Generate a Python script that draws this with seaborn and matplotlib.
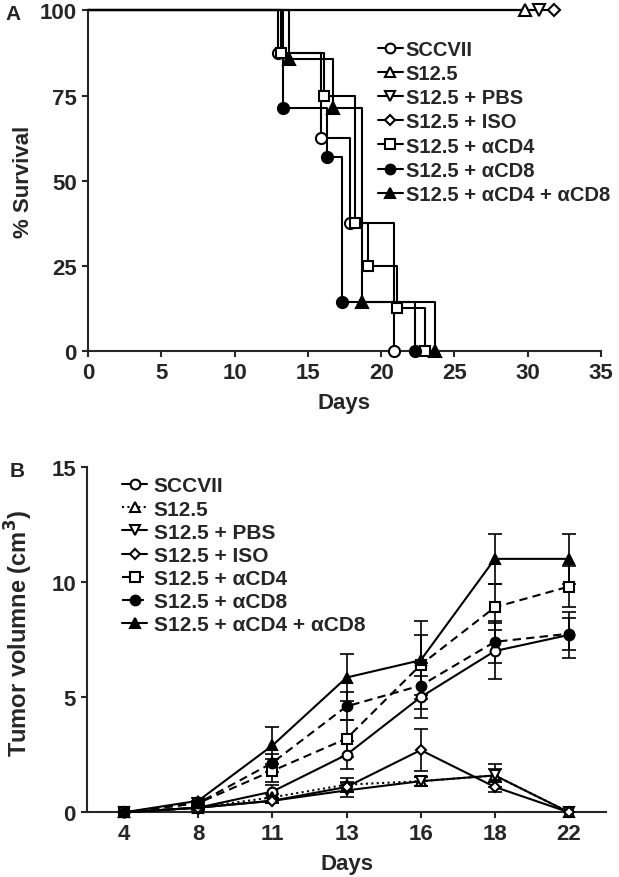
import numpy as np
import pandas as pd
import matplotlib
matplotlib.use("Agg")
import matplotlib.pyplot as plt
import seaborn as sns

# ---- data ----
groups = ["SCCVII", "S12.5", "S12.5 + PBS", "S12.5 + ISO",
          "S12.5 + αCD4", "S12.5 + αCD8", "S12.5 + αCD4 + αCD8"]

# panel A: Kaplan-Meier event times (days) and survival (%)
km_times = {
    "SCCVII": [13.0, 15.9, 17.9, 20.9],
    "S12.5": [29.8],
    "S12.5 + PBS": [30.8],
    "S12.5 + ISO": [31.8],
    "S12.5 + αCD4": [13.2, 16.1, 18.2, 19.1, 21.1, 23.0],
    "S12.5 + αCD8": [13.3, 16.3, 17.3, 22.3],
    "S12.5 + αCD4 + αCD8": [13.7, 16.7, 18.7, 23.7],
}
km_surv = {
    "SCCVII": [87.5, 62.5, 37.5, 0],
    "S12.5": [100],
    "S12.5 + PBS": [100],
    "S12.5 + ISO": [100],
    "S12.5 + αCD4": [87.5, 75, 37.5, 25, 12.5, 0],
    "S12.5 + αCD8": [71.4, 57.1, 14.3, 0],
    "S12.5 + αCD4 + αCD8": [85.7, 71.4, 14.3, 0],
}

# panel B: tumor volume (mean, SE)
days = [4, 8, 11, 13, 16, 18, 22]
vol_sccvii = [0, 0.2, 0.9, 2.5, 5.0, 7.0, 7.7]
vol_s125 = [0, 0.2, 0.65, 1.2, 1.35, 1.6, 0]
vol_pbs = [0, 0.2, 0.5, 0.95, 1.35, 1.6, 0]
vol_iso = [0, 0.2, 0.5, 1.1, 2.7, 1.1, 0]
vol_cd4 = [0, 0.4, 1.8, 3.2, 6.4, 8.9, 9.8]
vol_cd8 = [0, 0.4, 2.15, 4.6, 5.5, 7.4, 7.75]
vol_cd48 = [0, 0.5, 2.9, 5.85, 6.6, 11.0, 11.0]

se_sccvii = [0, 0.1, 0.3, 0.6, 0.9, 1.2, 1.0]
se_s125 = [0, 0.05, 0.15, 0.3, 0.2, 0.3, 0]
se_pbs = [0, 0.05, 0.1, 0.3, 0.2, 0.5, 0]
se_iso = [0, 0.05, 0.1, 0.2, 0.9, 0.2, 0]
se_cd4 = [0, 0.1, 0.5, 0.8, 1.3, 1.0, 0.9]
se_cd8 = [0, 0.1, 0.4, 0.6, 1.0, 0.9, 0.7]
se_cd48 = [0, 0.1, 0.8, 1.0, 1.7, 1.1, 1.1]

vol_means = [vol_sccvii, vol_s125, vol_pbs, vol_iso, vol_cd4, vol_cd8, vol_cd48]
vol_se = [se_sccvii, se_s125, se_pbs, se_iso, se_cd4, se_cd8, se_cd48]

# ---- styles ----
markers = ["o", "^", "v", "D", "s", "o", "^"]
faces = ["white", "white", "white", "white", "white", "black", "black"]
msizes = [8, 8, 8, 6.5, 7.5, 8, 8]
line_b = ["-", (0, (1, 1.6)), "-", "-", (0, (4, 2.5)), (0, (4, 2.5)), "-"]

sns.set_style("ticks")
plt.rcParams["font.family"] = ["Liberation Sans", "DejaVu Sans"]
plt.rcParams["font.weight"] = "bold"
plt.rcParams["axes.labelweight"] = "bold"
plt.rcParams["axes.linewidth"] = 1.5
plt.rcParams["xtick.major.width"] = 1.5
plt.rcParams["ytick.major.width"] = 1.5
plt.rcParams["xtick.major.size"] = 4
plt.rcParams["ytick.major.size"] = 4
plt.rcParams["xtick.major.pad"] = 4
plt.rcParams["ytick.major.pad"] = 4

fig = plt.figure(figsize=(6.19, 8.78), dpi=100)
axA = fig.add_axes([0.142, 0.599, 0.829, 0.388])
axB = fig.add_axes([0.1406, 0.0737, 0.8385, 0.3936])

# ---- panel A ----
for i, g in enumerate(groups):
    t = [0] + km_times[g]
    s = [100] + km_surv[g]
    df = pd.DataFrame({"day": t, "surv": s})
    sns.lineplot(data=df, x="day", y="surv", ax=axA, color="black", lw=1.5,
                 drawstyle="steps-post", estimator=None, sort=False,
                 clip_on=False, zorder=3)
    axA.plot(km_times[g], km_surv[g], linestyle="none", marker=markers[i],
             mfc=faces[i], mec="black", mew=1.5, ms=msizes[i],
             clip_on=False, zorder=4, label=g)

axA.set_xlim(0, 35)
axA.set_ylim(0, 100)
axA.set_xticks(range(0, 36, 5))
axA.set_yticks([0, 25, 50, 75, 100])
axA.tick_params(labelsize=16)
axA.set_xlabel("Days", fontsize=16, fontweight="bold", labelpad=6)
axA.set_ylabel("% Survival", fontsize=16, fontweight="bold")
axA.yaxis.set_label_coords(-0.105, 0.5)
sns.despine(ax=axA)

hA = [plt.Line2D([], [], color="black", lw=1.5, marker=markers[i], mfc=faces[i],
                 mec="black", mew=1.5, ms=msizes[i] - 1) for i in range(len(groups))]
axA.legend(hA, groups, loc="upper left", bbox_to_anchor=(0.566, 0.912),
           frameon=False, handlelength=1.2, handletextpad=0.15,
           labelspacing=0.25, borderpad=0, borderaxespad=0,
           prop={"weight": "bold", "size": 14.5})

# ---- panel B ----
pos = np.arange(len(days))
for i, g in enumerate(groups):
    df = pd.DataFrame({"pos": pos, "vol": vol_means[i]})
    axB.errorbar(pos, vol_means[i], yerr=vol_se[i], fmt="none", ecolor="black",
                 elinewidth=1.2, capsize=5, capthick=1.2, zorder=2, clip_on=False)
    sns.lineplot(data=df, x="pos", y="vol", ax=axB, color="black", lw=1.5,
                 linestyle=line_b[i], marker=markers[i], markerfacecolor=faces[i],
                 markeredgecolor="black", markeredgewidth=1.5, markersize=msizes[i] - 1,
                 estimator=None, clip_on=False, zorder=3)

axB.set_xlim(-0.5, 6.5)
axB.set_ylim(0, 15)
axB.set_xticks(pos)
axB.set_xticklabels([str(d) for d in days])
axB.set_yticks([0, 5, 10, 15])
axB.tick_params(labelsize=16)
axB.set_xlabel("Days", fontsize=16, fontweight="bold", labelpad=6)
axB.set_ylabel("Tumor volumne (cm$^\\mathbf{3}$)", fontsize=17, fontweight="bold")
axB.yaxis.set_label_coords(-0.1, 0.52)
sns.despine(ax=axB)

hB = [plt.Line2D([], [], color="black", lw=1.5, linestyle=line_b[i], marker=markers[i],
                 mfc=faces[i], mec="black", mew=1.5, ms=msizes[i] - 1)
      for i in range(len(groups))]
axB.legend(hB, groups, loc="upper left", bbox_to_anchor=(0.068, 0.972),
           frameon=False, handlelength=1.2, handletextpad=0.3,
           labelspacing=0.2, borderpad=0, borderaxespad=0,
           prop={"weight": "bold", "size": 15})

fig.text(13 / 619, 1 - 15 / 878, "A", fontsize=15, fontweight="bold", ha="center", va="center")
fig.text(17 / 619, 1 - 472 / 878, "B", fontsize=15, fontweight="bold", ha="center", va="center")

fig.savefig("out.png", dpi=100)
